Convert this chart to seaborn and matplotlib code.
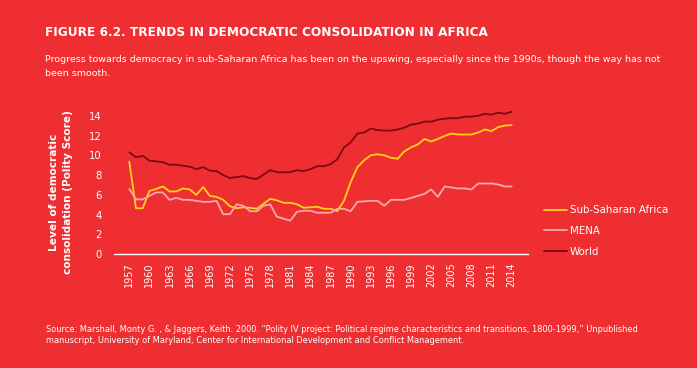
import matplotlib
matplotlib.use("Agg")
import matplotlib.pyplot as plt
import seaborn as sns
import pandas as pd
from matplotlib.lines import Line2D
from matplotlib import font_manager

# ---------------- data ----------------
years = list(range(1957, 2015))
ssa = [9.35, 4.65, 4.65, 6.4, 6.6, 6.85, 6.35, 6.35, 6.65, 6.55,
       6.0, 6.8, 5.9, 5.8, 5.5, 4.85, 4.65, 4.75, 4.7, 4.6,
       5.1, 5.6, 5.45, 5.2, 5.2, 5.05, 4.7, 4.75, 4.8, 4.6,
       4.6, 4.35, 5.4, 7.3, 8.8, 9.5, 10.0, 10.1, 10.0, 9.75,
       9.65, 10.4, 10.8, 11.1, 11.65, 11.4, 11.65, 11.95, 12.2, 12.1,
       12.1, 12.1, 12.3, 12.6, 12.45, 12.85, 13.0, 13.05]
mena = [6.6, 5.55, 5.55, 5.9, 6.25, 6.25, 5.5, 5.7, 5.5, 5.5,
        5.4, 5.3, 5.3, 5.4, 4.05, 4.05, 5.05, 4.9, 4.35, 4.35,
        4.9, 5.05, 3.8, 3.6, 3.4, 4.3, 4.4, 4.4, 4.2, 4.2,
        4.2, 4.6, 4.6, 4.35, 5.3, 5.35, 5.4, 5.4, 4.9, 5.5,
        5.5, 5.5, 5.7, 5.9, 6.1, 6.55, 5.8, 6.85, 6.75, 6.65,
        6.65, 6.55, 7.15, 7.15, 7.15, 7.05, 6.85, 6.85]
world = [10.3, 9.8, 9.95, 9.45, 9.4, 9.3, 9.05, 9.05, 8.95, 8.85,
         8.6, 8.8, 8.45, 8.4, 8.0, 7.7, 7.8, 7.9, 7.7, 7.6,
         8.05, 8.5, 8.3, 8.28, 8.3, 8.5, 8.4, 8.6, 8.9, 8.9,
         9.1, 9.6, 10.8, 11.3, 12.2, 12.3, 12.7, 12.55, 12.5, 12.5,
         12.6, 12.8, 13.1, 13.2, 13.4, 13.4, 13.6, 13.7, 13.75, 13.75,
         13.9, 13.9, 14.0, 14.2, 14.1, 14.3, 14.2, 14.4]
series_names = ["Sub-Saharan Africa", "MENA", "World"]
xtick_years = list(range(1957, 2015, 3))
ytick_vals = [0, 2, 4, 6, 8, 10, 12, 14]

title = "FIGURE 6.2. TRENDS IN DEMOCRATIC CONSOLIDATION IN AFRICA"
subtitle1 = ("Progress towards democracy in sub-Saharan Africa has been on the upswing, "
             "especially since the 1990s, though the way has not")
subtitle2 = "been smooth."
source1 = ("Source: Marshall, Monty G. , & Jaggers, Keith. 2000. \u201cPolity IV project: Political "
           "regime characteristics and transitions, 1800-1999,\u201d Unpublished")
source2 = ("manuscript, University of Maryland, Center for International Development "
           "and Conflict Management.")
ylabel = "Level of democratic\nconsolidation (Polity Score)"

# ---------------- style ----------------
BG = "#EE2E31"
colors = {"Sub-Saharan Africa": "#FFD21A", "MENA": "#F6AAA9", "World": "#7A0B12"}

sns.set_theme(style="white")
plt.rcParams["font.family"] = ["DejaVu Sans"]

installed = {f.name for f in font_manager.fontManager.ttflist}
title_family = "Liberation Sans Narrow" if "Liberation Sans Narrow" in installed else "DejaVu Sans"

df = pd.DataFrame({
    "year": years * 3,
    "value": ssa + mena + world,
    "series": [series_names[0]] * len(years) + [series_names[1]] * len(years)
              + [series_names[2]] * len(years),
})

W, H = 697, 368
fig = plt.figure(figsize=(W / 100, H / 100), dpi=100, facecolor=BG)
ax = fig.add_axes([114 / W, (H - 254.3) / H, 414 / W, 148.5 / H])
ax.set_facecolor(BG)

sns.lineplot(data=df, x="year", y="value", hue="series", palette=colors,
             hue_order=series_names, linewidth=1.3, ax=ax, legend=False)

ax.set_xlim(1954.72, 2016.43)
ax.set_ylim(0, 15)
ax.set_xticks(xtick_years)
ax.set_xticklabels([str(y) for y in xtick_years], rotation=90, color="white", fontsize=7)
ax.set_yticks(ytick_vals)
ax.set_yticklabels([str(v) for v in ytick_vals], color="white", fontsize=7.2)
ax.tick_params(axis="both", length=0)
ax.tick_params(axis="x", pad=6)
ax.tick_params(axis="y", pad=9)
for s in ["top", "right", "left"]:
    ax.spines[s].set_visible(False)
ax.spines["bottom"].set_color("white")
ax.spines["bottom"].set_linewidth(1.0)
ax.set_xlabel("")
ax.set_ylabel("")
ax.grid(False)

fig.text(61 / W, 1 - 192 / H, ylabel, rotation=90, color="white", fontsize=7.6,
         fontweight="bold", ha="center", va="center", linespacing=1.45)

handles = [Line2D([0], [0], color=colors[n], lw=1.3) for n in series_names]
leg = fig.legend(handles, series_names, loc="upper left",
                 bbox_to_anchor=(540 / W, 1 - 201 / H), frameon=False,
                 fontsize=7.4, labelcolor="white", handlelength=2.2,
                 handletextpad=0.3, labelspacing=1.05, borderaxespad=0)

t_title = fig.text(45 / W, 1 - 32 / H, title, color="white", fontsize=9,
                   family=[title_family], fontweight="bold", va="center", ha="left")
t_s1 = fig.text(45 / W, 1 - 60 / H, subtitle1, color="white", fontsize=6.5, va="center", ha="left")
t_s2 = fig.text(45 / W, 1 - 73 / H, subtitle2, color="white", fontsize=6.5, va="center", ha="left")
t_r1 = fig.text(46 / W, 1 - 329 / H, source1, color="white", fontsize=5.8, va="center", ha="left")
t_r2 = fig.text(46 / W, 1 - 340.5 / H, source2, color="white", fontsize=5.8, va="center", ha="left")

# fit text widths to the reference
fig.canvas.draw()
r = fig.canvas.get_renderer()
def fit(t, target):
    w = t.get_window_extent(r).width
    t.set_fontsize(t.get_fontsize() * target / w)
fit(t_title, 439)
fit(t_s1, 617)
t_s2.set_fontsize(t_s1.get_fontsize())
fit(t_r1, 585)
t_r2.set_fontsize(t_r1.get_fontsize())

fig.savefig("out.png", dpi=100, facecolor=BG)
